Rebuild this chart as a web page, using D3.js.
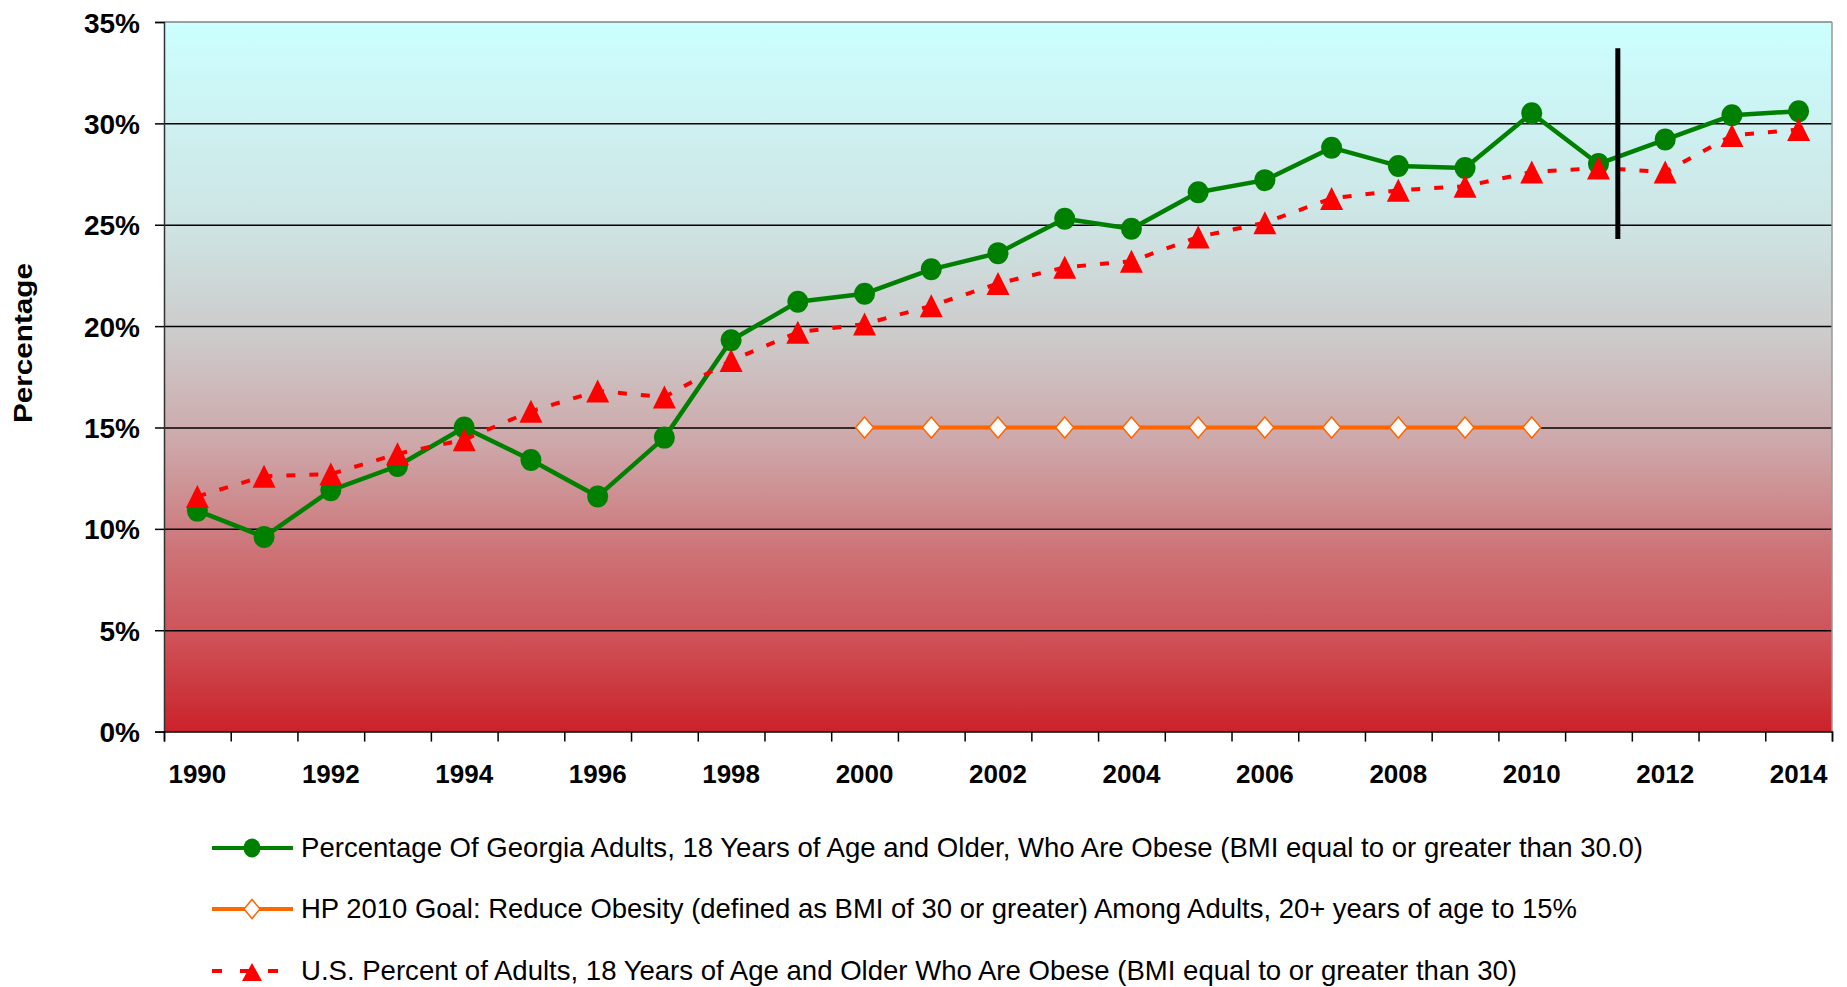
<!DOCTYPE html>
<html>
<head>
<meta charset="utf-8">
<script src="https://cdn.jsdelivr.net/npm/d3@7"></script>
<style>
  html, body { margin: 0; padding: 0; background: #fff; }
  svg { display: block; }
  text { font-family: "Liberation Sans", Arial, sans-serif; }
</style>
</head>
<body>
<svg id="chart" width="1847" height="987"></svg>
<script>
// ---------- data ----------
const years = [1990,1991,1992,1993,1994,1995,1996,1997,1998,1999,2000,2001,2002,2003,2004,2005,2006,2007,2008,2009,2010,2011,2012,2013,2014];
const georgia = [10.9,9.6,11.9,13.1,15.0,13.4,11.6,14.5,19.3,21.2,21.6,22.8,23.6,25.3,24.8,26.6,27.2,28.8,27.9,27.8,30.5,28.0,29.2,30.4,30.6];
const hpGoalYears = [2000,2001,2002,2003,2004,2005,2006,2007,2008,2009,2010];
const hpGoal = [15,15,15,15,15,15,15,15,15,15,15];
const us = [11.6,12.6,12.7,13.7,14.4,15.8,16.8,16.5,18.3,19.7,20.1,21.0,22.1,22.9,23.2,24.4,25.1,26.3,26.7,26.9,27.6,27.8,27.6,29.4,29.7];
const yTicks = [0,5,10,15,20,25,30,35];
const xTickLabels = [1990,1992,1994,1996,1998,2000,2002,2004,2006,2008,2010,2012,2014];
const yTitle = "Percentage";
const legendLabels = [
  "Percentage Of Georgia Adults, 18 Years of Age and Older, Who Are Obese (BMI equal to or greater than 30.0)",
  "HP 2010 Goal: Reduce Obesity (defined as BMI of 30 or greater) Among Adults, 20+ years of age to 15%",
  "U.S. Percent of Adults, 18 Years of Age and Older Who Are Obese (BMI equal to or greater than 30)"
];
// methodology break marker (category index position, value range)
const breakPos = 21.79;
const breakRange = [24.3, 33.7];

// ---------- layout ----------
const L = 164, R = 1832, T = 22, B = 731.6;
const svg = d3.select("#chart");

const x = d3.scaleBand().domain(years).range([L, R]).padding(0);
const xIdx = d3.scaleLinear().domain([0, years.length]).range([L, R]);
const y = d3.scaleLinear().domain([0, 35]).range([B, T]);
const cx = yr => x(yr) + x.bandwidth() / 2;

// ---------- background gradient ----------
const defs = svg.append("defs");
const grad = defs.append("linearGradient").attr("id", "bg").attr("x1", 0).attr("y1", 0).attr("x2", 0).attr("y2", 1);
[[0,"#CCFFFF"],[0.3,"#CEE2E2"],[0.45,"#CDC9C9"],[0.6,"#CDA6A8"],[0.75,"#CD7276"],[0.87,"#CE5157"],[1,"#CB222A"]]
  .forEach(([o,c]) => grad.append("stop").attr("offset", o).attr("stop-color", c));
svg.append("rect").attr("x", L).attr("y", T).attr("width", R - L).attr("height", B - T).attr("fill", "url(#bg)");

// ---------- gridlines ----------
svg.append("g")
  .attr("transform", `translate(${L},0)`)
  .call(d3.axisLeft(y).tickValues(yTicks.filter(v => v > 0 && v < 35)).tickSize(-(R - L)).tickFormat(""))
  .call(g => g.select(".domain").remove())
  .call(g => g.selectAll("line").attr("stroke", "#000").attr("stroke-width", 1.5));

// plot border top & right
svg.append("line").attr("x1", L).attr("x2", R).attr("y1", y(35)).attr("y2", y(35)).attr("stroke", "#808080").attr("stroke-width", 1.5);
svg.append("line").attr("x1", R).attr("x2", R).attr("y1", T).attr("y2", B).attr("stroke", "#999").attr("stroke-width", 1.5);

// ---------- y axis ----------
svg.append("g")
  .attr("transform", `translate(${L},0)`)
  .call(d3.axisLeft(y).tickValues(yTicks).tickSize(9).tickPadding(15).tickFormat(d => d + "%"))
  .call(g => g.select(".domain").attr("stroke", "#333").attr("stroke-width", 1.5))
  .call(g => g.selectAll(".tick line").attr("stroke", "#000").attr("stroke-width", 1.5))
  .call(g => g.selectAll("text").attr("font-size", 28).attr("font-weight", "bold").attr("fill", "#000")
    .attr("font-family", '"Liberation Sans", Arial, sans-serif').attr("dy", "0.36em"));

// ---------- x axis ----------
svg.append("g")
  .attr("transform", `translate(0,${B})`)
  .call(d3.axisBottom(xIdx).tickValues(d3.range(0, years.length + 1)).tickSize(10).tickFormat(""))
  .call(g => g.select(".domain").attr("stroke", "#000").attr("stroke-width", 1.5))
  .call(g => g.selectAll(".tick line").attr("stroke", "#000").attr("stroke-width", 1.5));
svg.append("g")
  .attr("transform", `translate(0,${B})`)
  .call(d3.axisBottom(x).tickValues(xTickLabels).tickSize(0).tickPadding(33))
  .call(g => g.select(".domain").remove())
  .call(g => g.selectAll("text").attr("font-size", 26).attr("font-weight", "bold").attr("fill", "#000")
    .attr("font-family", '"Liberation Sans", Arial, sans-serif'));

// y title
svg.append("text")
  .attr("transform", `translate(32,343) rotate(-90)`)
  .attr("text-anchor", "middle")
  .attr("font-size", 26).attr("font-weight", "bold")
  .attr("textLength", 160).attr("lengthAdjust", "spacingAndGlyphs")
  .text(yTitle);

// ---------- series ----------
const line = d3.line();
const gaPts = years.map((yr, i) => [cx(yr), y(georgia[i])]);
const hpPts = hpGoalYears.map((yr, i) => [cx(yr), y(hpGoal[i])]);
const usPts = years.map((yr, i) => [cx(yr), y(us[i])]);

// Georgia
svg.append("path").attr("d", line(gaPts)).attr("fill", "none").attr("stroke", "#008000").attr("stroke-width", 4.5).attr("stroke-linejoin", "round");
svg.append("g").selectAll("ellipse").data(gaPts).join("ellipse")
  .attr("cx", d => d[0]).attr("cy", d => d[1]).attr("rx", 10.5).attr("ry", 11).attr("fill", "#008000");

// HP goal
svg.append("path").attr("d", line(hpPts)).attr("fill", "none").attr("stroke", "#FF6600").attr("stroke-width", 4);
const diamond = (w, h) => `M0,${-h}L${w},0L0,${h}L${-w},0Z`;
svg.append("g").selectAll("path").data(hpPts).join("path")
  .attr("d", diamond(9, 10.5)).attr("transform", d => `translate(${d[0]},${d[1]})`)
  .attr("fill", "#fff").attr("stroke", "#FF6600").attr("stroke-width", 1.5);

// US
svg.append("path").attr("d", line(usPts)).attr("fill", "none").attr("stroke", "#FF0000").attr("stroke-width", 4).attr("stroke-dasharray", "9,14");
const tri = (w, h) => `M0,${-h/2}L${w/2},${h/2}L${-w/2},${h/2}Z`;
svg.append("g").selectAll("path").data(usPts).join("path")
  .attr("d", tri(23, 23)).attr("transform", d => `translate(${d[0]},${d[1]})`)
  .attr("fill", "#FF0000");

// methodology break line
svg.append("line")
  .attr("x1", xIdx(breakPos)).attr("x2", xIdx(breakPos))
  .attr("y1", y(breakRange[1])).attr("y2", y(breakRange[0]))
  .attr("stroke", "#000").attr("stroke-width", 5);

// ---------- legend ----------
const lg = svg.append("g");
const rowY = [848, 909, 971];
const textY = [857, 918, 980];
const textX = 301;
const textEnd = [1643, 1577, 1517];
const lx1 = 212, lx2 = 293, lmx = 252;

// row 1
lg.append("line").attr("x1", lx1).attr("x2", lx2).attr("y1", rowY[0]).attr("y2", rowY[0]).attr("stroke", "#008000").attr("stroke-width", 4);
lg.append("ellipse").attr("cx", lmx).attr("cy", rowY[0]).attr("rx", 8.5).attr("ry", 9.5).attr("fill", "#008000");
// row 2
lg.append("line").attr("x1", lx1).attr("x2", lx2).attr("y1", rowY[1]).attr("y2", rowY[1]).attr("stroke", "#FF6600").attr("stroke-width", 4);
lg.append("path").attr("d", diamond(8, 9.5)).attr("transform", `translate(${lmx},${rowY[1]})`).attr("fill", "#fff").attr("stroke", "#FF6600").attr("stroke-width", 1.5);
// row 3
lg.append("line").attr("x1", lx1).attr("x2", lx2).attr("y1", rowY[2]).attr("y2", rowY[2]).attr("stroke", "#FF0000").attr("stroke-width", 4).attr("stroke-dasharray", "10,18");
lg.append("path").attr("d", tri(20, 18)).attr("transform", `translate(${lmx},${rowY[2] + 1})`).attr("fill", "#FF0000");

legendLabels.forEach((t, i) => {
  lg.append("text").attr("x", textX).attr("y", textY[i])
    .attr("font-size", 28).attr("fill", "#000")
    .attr("textLength", textEnd[i] - textX).attr("lengthAdjust", "spacingAndGlyphs")
    .text(t);
});
</script>
</body>
</html>
